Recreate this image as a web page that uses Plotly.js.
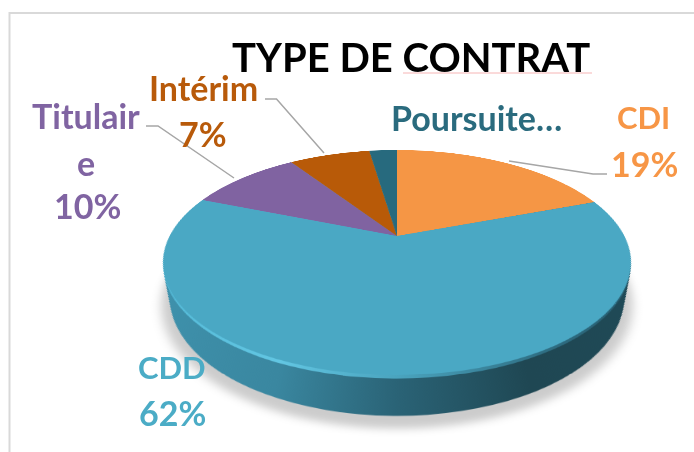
<!DOCTYPE html>
<html><head><meta charset="utf-8">
<script src="https://cdn.plot.ly/plotly-3.0.1.min.js"></script>
<style>
html,body{margin:0;padding:0;background:#fff;width:694px;height:452px;overflow:hidden}
#pie{position:absolute;left:0;top:0;width:600px;height:600px;transform-origin:0 0}
#ann{position:absolute;left:0;top:0;width:694px;height:452px}
</style></head><body>
<div id="pie"></div><div id="ann"></div>
<script>
const categories = ["CDI","CDD","Titulaire","Intérim","Poursuite…"];
const values = [19.4, 61.6, 9.6, 7.0, 2.4];
const percentLabels = ["19%","62%","10%","7%",""];
const sliceColors = ["#F59645","#4AA8C4","#8063A1","#B85A08","#276A7E"];
const labelColors = ["#F79646","#4BACC6","#8064A2","#B85A0A","#2A6B7E"];
const chartTitle = "TYPE DE CONTRAT";

// pie geometry in its own square; a perspective matrix lays it on the page
const S=600,R=250,XC=300,YC=260;
const k=0.2356,A=227.4,B=106.3,PX=397,PY=236;
function pieTrace(t,col,r0,s0){
  const r=R*(1-r0*t), yc=YC+s0*R*t;
  return {type:"pie",values:values,labels:categories,sort:false,direction:"clockwise",rotation:0,
    textinfo:"none",hoverinfo:"skip",showlegend:false,
    marker:{colors:col,line:{width:0}},
    domain:{x:[(XC-r)/S,(XC+r)/S],y:[1-(yc+r)/S,1-(yc-r)/S]}};
}
const LAYERS=44, traces=[];
traces.push(pieTrace(1,values.map(()=>"rgba(0,0,0,0.2)"),0.075,0.345));
for(let i=LAYERS;i>=1;i--) traces.push(pieTrace(i/LAYERS,values.map(()=>"#33829b"),0.1,0.31));
traces.push(pieTrace(0,sliceColors,0,0));

const gd=document.getElementById("pie");
const d2=-k/R,d4=1+k*YC/R;
gd.style.transform="matrix3d("+[A/R,0,0,0, PX*d2,PY*d2+B/R,0,d2, 0,0,1,0, PX*d4-A*XC/R,PY*d4-B*YC/R,0,d4].join(",")+")";

Plotly.newPlot(gd,traces,{width:S,height:S,margin:{l:0,r:0,t:0,b:0},paper_bgcolor:"rgba(0,0,0,0)"},{staticPlot:true,displayModeBar:false}).then(()=>{
  const svg=gd.querySelector("svg.main-svg");
  const ns="http://www.w3.org/2000/svg";
  const defs=document.createElementNS(ns,"defs");
  function grad(id,stops){
    const g=document.createElementNS(ns,"linearGradient");
    g.setAttribute("id",id);g.setAttribute("gradientUnits","userSpaceOnUse");
    g.setAttribute("x1",XC-R);g.setAttribute("x2",XC+R);g.setAttribute("y1",0);g.setAttribute("y2",0);
    stops.forEach(s=>{const e=document.createElementNS(ns,"stop");e.setAttribute("offset",s[0]);e.setAttribute("stop-color",s[1]);g.appendChild(e);});
    defs.appendChild(g);
  }
  grad("body",[[0,"#3f93ae"],[0.3,"#3a87a0"],[0.5,"#2a6376"],[0.72,"#1f4753"],[1,"#1f4a57"]]);
  grad("rim",[[0,"#52b8d6"],[0.3,"#62c6e2"],[0.5,"#4aa4bf"],[0.75,"#2f6f84"],[1,"#25586a"]]);
  const f=document.createElementNS(ns,"filter");
  f.setAttribute("id","soft");f.setAttribute("x","-20%");f.setAttribute("y","-20%");f.setAttribute("width","140%");f.setAttribute("height","140%");
  const b=document.createElementNS(ns,"feGaussianBlur");b.setAttribute("stdDeviation","5");f.appendChild(b);defs.appendChild(f);
  svg.insertBefore(defs,svg.firstChild);
  const groups=gd.querySelectorAll("g.trace");
  groups.forEach((g,i)=>{
    const paths=g.querySelectorAll("path.surface");
    if(i===0) paths.forEach(p=>p.setAttribute("filter","url(#soft)"));
    else if(i<groups.length-1){
      const idx=LAYERS-i+1;
      const id=idx<=4?"rim":"body";
      paths.forEach(p=>{p.style.fill="url(#"+id+")";});
    }
  });
});

// overlay: title, labels and leader lines, placed in page pixels
const W=694,H=452;
const px=(x,y)=>({x:x/W,y:1-y/H});
function label(text,x,y,color,size){
  const p=px(x,y);
  return {text:"<b>"+text+"</b>",x:p.x,y:p.y,xref:"paper",yref:"paper",xanchor:"center",yanchor:"middle",showarrow:false,
    font:{family:"Lato, 'Open Sans', sans-serif",size:size||34,color:color}};
}
const annotations=[
  label(categories[0],643,117,labelColors[0],31),label(percentLabels[0],644,163,labelColors[0]),
  label(categories[1].slice(0,3),172,367,labelColors[1],31),label(percentLabels[1],172,412,labelColors[1]),
  label("Titulair",86,116,labelColors[2]),label("e",86,162,labelColors[2]),label(percentLabels[2],87,205,labelColors[2]),
  label(categories[3],203,88,labelColors[3]),label(percentLabels[3],203,133,labelColors[3]),
  label(categories[4],477,117,labelColors[4])
];
const tp=px(411,57);
annotations.push({text:"<b>"+chartTitle+"</b>",x:tp.x,y:tp.y,xref:"paper",yref:"paper",xanchor:"center",yanchor:"middle",showarrow:false,
  font:{family:"Lato, 'Open Sans', sans-serif",size:40,color:"#000"}});
function poly(pts,color,width){
  return {type:"path",xref:"paper",yref:"paper",line:{color:color,width:width},
    path:pts.map((q,i)=>{const p=px(q[0],q[1]);return (i?"L":"M")+p.x+","+p.y;}).join(" ")};
}
const shapes=[
  poly([[694,13],[9.5,13],[9.5,452]],"#d9d9d9",2),
  poly([[403,73],[592,73]],"#f6b5b5",1),
  poly([[146,126],[158,126],[234,178]],"#a6a6a6",1.5),
  poly([[265,99],[276.5,99],[324,153]],"#a6a6a6",1.5),
  poly([[509,161],[593,174],[607,174]],"#a6a6a6",1.5)
];
Plotly.newPlot("ann",[],{width:W,height:H,margin:{l:0,r:0,t:0,b:0},paper_bgcolor:"rgba(0,0,0,0)",plot_bgcolor:"rgba(0,0,0,0)",
  xaxis:{visible:false},yaxis:{visible:false},annotations:annotations,shapes:shapes},{staticPlot:true,displayModeBar:false});
</script></body></html>
